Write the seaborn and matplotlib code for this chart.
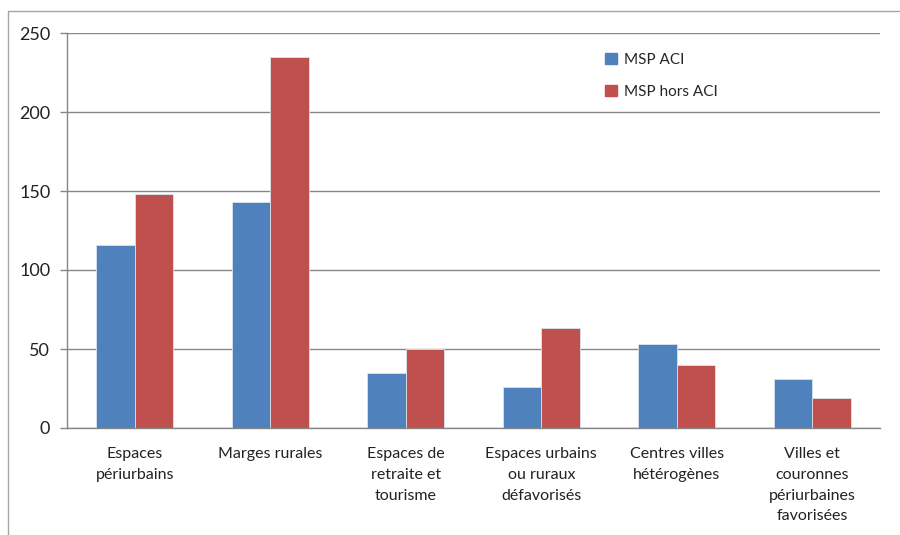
import matplotlib
matplotlib.use("Agg")
import matplotlib.pyplot as plt
from matplotlib.lines import Line2D
import seaborn as sns
import pandas as pd
import numpy as np

categories = [
    "Espaces\npériurbains",
    "Marges rurales",
    "Espaces de\nretraite et\ntourisme",
    "Espaces urbains\nou ruraux\ndéfavorisés",
    "Centres villes\nhétérogènes",
    "Villes et\ncouronnes\npériurbaines\nfavorisées",
]
msp_aci = [116, 143, 35, 26, 53, 31]
msp_hors_aci = [148, 235, 50, 63, 40, 19]
series_names = ["MSP ACI", "MSP hors ACI"]
colors = ["#4F81BD", "#C0504D"]

df = pd.DataFrame({
    "categorie": categories * 2,
    "valeur": msp_aci + msp_hors_aci,
    "serie": [series_names[0]] * len(categories) + [series_names[1]] * len(categories),
})

sns.set_style("white")
plt.rcParams["font.family"] = ["Lato", "DejaVu Sans"]

fig = plt.figure(figsize=(9, 5.35), dpi=100)
ax = fig.add_axes([67 / 900, 107 / 535, 813 / 900, 395 / 535])

sns.barplot(data=df, x="categorie", y="valeur", hue="serie", palette=colors,
            width=0.57, ax=ax, edgecolor="#dbe3ee", linewidth=0.6, saturation=1)

ax.set_ylim(0, 250)
ax.set_xlim(-0.5, len(categories) - 0.5)
ax.set_yticks(np.arange(0, 251, 50))
ax.set_xlabel("")
ax.set_ylabel("")

grid_col = "#868686"
ax.yaxis.grid(True, color=grid_col, linewidth=1)
ax.set_axisbelow(True)
for s in ["top", "right"]:
    ax.spines[s].set_visible(False)
for s in ["left", "bottom"]:
    ax.spines[s].set_color(grid_col)
    ax.spines[s].set_linewidth(1)

# category labels centred, ticks at category boundaries
ax.set_xticks(np.arange(len(categories)))
ax.set_xticklabels(categories, fontsize=11.5, color="#222222", linespacing=1.6, va="top")
ax.tick_params(axis="x", which="major", length=0, pad=14)
ax.set_xticks(np.arange(-0.5, len(categories)), minor=True)
ax.tick_params(axis="x", which="minor", length=6, color=grid_col, width=1, direction="out")
ax.tick_params(axis="y", which="major", length=5, color=grid_col, width=1, direction="out",
               labelsize=13, labelcolor="#222222", pad=7, left=True)

handles = [plt.Rectangle((0, 0), 1, 1, color=c) for c in colors]
ax.legend(handles, series_names, loc="upper left", bbox_to_anchor=(0.645, 0.985),
          frameon=False, fontsize=11, handlelength=0.75, handleheight=0.75,
          handletextpad=0.5, labelspacing=1.2)

# outer chart frame (left and top edges visible)
frame_col = "#a6a6a6"
fig.add_artist(Line2D([7.5 / 900, 7.5 / 900], [0, 1 - 11 / 535], color=frame_col, lw=1))
fig.add_artist(Line2D([7.5 / 900, 1], [1 - 11 / 535, 1 - 11 / 535], color=frame_col, lw=1))

fig.savefig("out.png", dpi=100)
